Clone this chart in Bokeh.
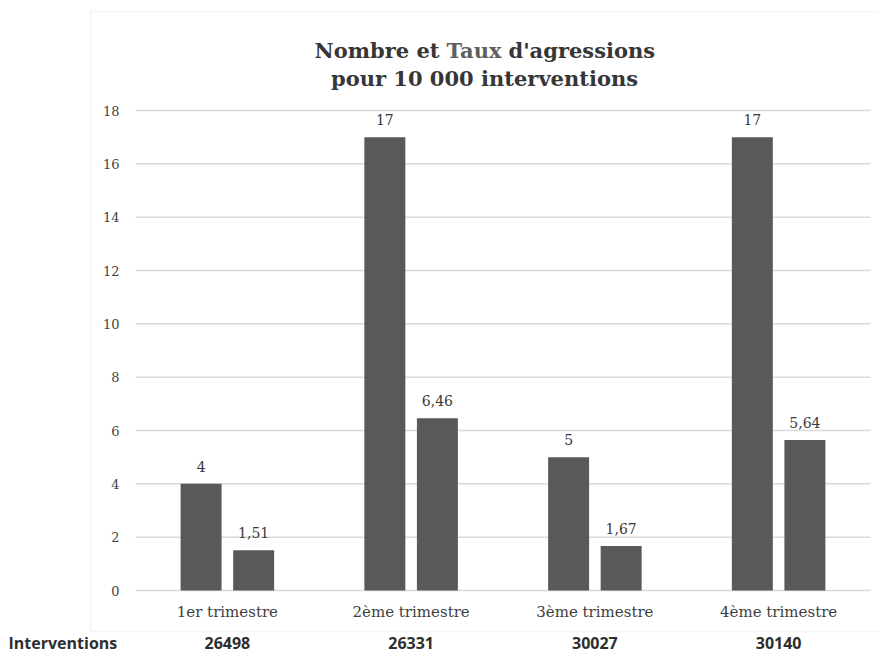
from bokeh.plotting import figure
from bokeh.models import Range1d, ColumnDataSource, LabelSet, Label, BoxAnnotation
from bokeh.core.properties import value
from bokeh.embed import file_html
from bokeh.resources import INLINE

# ---- data -------------------------------------------------------------
trimestres = ["1er trimestre", "2ème trimestre", "3ème trimestre", "4ème trimestre"]
nombre = [4, 17, 5, 17]                 # nombre d'agressions
taux = [1.51, 6.46, 1.67, 5.64]         # taux pour 10 000 interventions
interventions = [26498, 26331, 30027, 30140]
y_ticks = [0, 2, 4, 6, 8, 10, 12, 14, 16, 18]

# ---- geometry of the canvas / plotting area (pixels) -------------------
W, H = 878, 653
LEFT, RIGHT, TOP, BOTTOM = 135, 870, 110, 590
Y_MAX = 18

def sx(px):
    """canvas pixel -> x data coordinate (one unit per quarter)"""
    return (px - LEFT) / ((RIGHT - LEFT) / len(trimestres))

def sy(py):
    """canvas pixel -> y data coordinate"""
    return (BOTTOM - py) / ((BOTTOM - TOP) / Y_MAX)

BAR = "#595959"
GRID = "#d9d9d9"
TXT = "#383838"
SERIF = "DejaVu Serif"
SANS = "Open Sans"

xc = [i + 0.5 for i in range(len(trimestres))]
off, bw = 0.143, 0.223

src = ColumnDataSource(dict(
    xc=xc,
    x_nb=[x - off for x in xc],
    x_tx=[x + off for x in xc],
    cat=trimestres,
    nombre=nombre,
    taux=taux,
    nombre_lbl=[str(v) for v in nombre],
    taux_lbl=[f"{v:.2f}".replace(".", ",") for v in taux],
    interv=[str(v) for v in interventions],
))

# the plotting frame covers the whole canvas; axes are drawn by hand
p = figure(width=W, height=H, x_range=Range1d(sx(0), sx(W)),
           y_range=Range1d(sy(H), sy(0)), output_backend="svg",
           toolbar_location=None, min_border=0)
p.outline_line_color = None
p.axis.visible = False
p.grid.visible = False
p.background_fill_color = "white"
p.border_fill_color = "white"

# chart border
p.add_layout(BoxAnnotation(left=sx(90), right=sx(W + 20), bottom=sy(631),
                           top=sy(11), fill_alpha=0, line_color=GRID,
                           line_width=1.5))

# horizontal grid and y tick labels
p.segment(x0=sx(LEFT), x1=sx(RIGHT), y0=y_ticks, y1=y_ticks,
          line_color=GRID, line_width=1.5)
p.text(x=sx(119), y=y_ticks, text=[str(t) for t in y_ticks],
       text_align="right", text_baseline="middle", text_font=value(SERIF),
       text_font_size="13px", text_color="#444444")

# bars
p.vbar(x="x_nb", top="nombre", width=bw, source=src, fill_color=BAR, line_color=None)
p.vbar(x="x_tx", top="taux", width=bw, source=src, fill_color=BAR, line_color=None)

# value labels above the bars
for xf, field, lbl in (("x_nb", "nombre", "nombre_lbl"), ("x_tx", "taux", "taux_lbl")):
    p.add_layout(LabelSet(x=xf, y=field, text=lbl, source=src, y_offset=12,
                          text_align="center", text_baseline="bottom",
                          text_font=value(SERIF), text_font_size="14px",
                          text_color=TXT))

# category labels
p.text(x="xc", y=sy(611), text="cat", source=src, text_align="center",
       text_baseline="middle", text_font=value(SERIF), text_font_size="15px",
       text_color="#404040")

# row of intervention counts under the chart
p.text(x="xc", y=sy(642), text="interv", source=src, text_align="center",
       text_baseline="middle", text_font=value(SANS), text_font_style="bold",
       text_font_size="16px", text_color="#2e2e2e")
p.add_layout(Label(x=sx(8), y=sy(642), text="Interventions", text_align="left",
                   text_baseline="middle", text_font=SANS,
                   text_font_style="bold", text_font_size="16px",
                   text_color="#2e2e2e"))

# title: two lines, with "Taux" in a lighter grey
title_kw = dict(text_font=SERIF, text_font_style="bold", text_font_size="21px",
                text_baseline="middle")
p.add_layout(Label(x=sx(439), y=sy(50), text="Nombre et", text_align="right",
                   text_color="#363636", **title_kw))
p.add_layout(Label(x=sx(446), y=sy(50), text="Taux", text_align="left",
                   text_color="#5e5e5e", **title_kw))
p.add_layout(Label(x=sx(508), y=sy(50), text="d'agressions", text_align="left",
                   text_color="#363636", **title_kw))
p.add_layout(Label(x=sx(484), y=sy(78), text="pour 10 000 interventions",
                   text_align="center", text_color="#363636", **title_kw))

open("out.html", "w").write(file_html(p, INLINE))
